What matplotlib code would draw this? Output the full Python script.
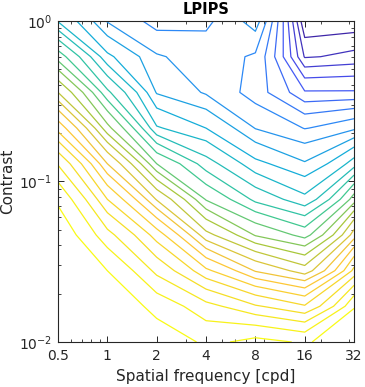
import matplotlib
matplotlib.use('Agg')
import matplotlib.pyplot as plt
import numpy as np
from matplotlib.colors import LinearSegmentedColormap, Normalize
from matplotlib.ticker import FixedLocator, LogLocator, NullFormatter

# grid of the contour data
freq = [0.5, 1, 2, 4, 8, 16, 32]
contrast = [1.0, 0.599, 0.359, 0.215, 0.129, 0.0774, 0.0464, 0.0278, 0.0167, 0.01]

# rows follow contrast (top to bottom), columns follow freq
z_rows = [
    [11.9,  8.9,  7.5,  7.8,  9.6,  0.0,  0.2],
    [15.5, 11.2,  9.1,  8.4,  7.85, 1.9,  2.3],
    [19.0, 14.2,  9.9,  8.85, 7.45, 5.1,  5.1],
    [22.6, 17.3, 12.1, 11.0,  8.95, 7.95, 8.8],
    [25.9, 21.0, 16.0, 13.4, 11.25, 10.1, 12.5],
    [27.8, 24.0, 19.9, 15.9, 13.7, 12.25, 16.5],
    [28.7, 26.3, 23.5, 19.3, 16.9, 15.6, 20.5],
    [29.2, 28.0, 25.7, 23.2, 20.9, 19.45, 24.3],
    [29.5, 28.8, 27.6, 26.3, 25.1, 24.1, 27.9],
    [29.8, 29.3, 28.6, 27.8, 28.3, 27.85, 29.2],
]
levels = list(range(1, 29))

xticks = [0.5, 1, 2, 4, 8, 16, 32]
xticklabels = ['0.5', '1', '2', '4', '8', '16', '32']

parula = LinearSegmentedColormap.from_list('parula', [
    (0.000, (0.2422, 0.1504, 0.6603)),
    (0.127, (0.2810, 0.3228, 0.9579)),
    (0.254, (0.1786, 0.5289, 0.9682)),
    (0.381, (0.0689, 0.6948, 0.8394)),
    (0.508, (0.2161, 0.7843, 0.5923)),
    (0.635, (0.6720, 0.7793, 0.2227)),
    (0.762, (0.9970, 0.7659, 0.2199)),
    (0.889, (0.9600, 0.8700, 0.1500)),
    (1.000, (0.9769, 0.9839, 0.0805)),
])

dark = '#262626'
fig = plt.figure(figsize=(3.65, 3.87), dpi=100)
ax = fig.add_axes([0.159, 0.1163, 0.811, 0.8295])

ax.contour(freq, contrast, np.array(z_rows), levels=levels, cmap=parula,
           norm=Normalize(vmin=levels[0], vmax=levels[-1]), linewidths=0.9)

ax.set_xscale('log')
ax.set_yscale('log')
ax.set_xlim(0.5, 32)
ax.set_ylim(0.01, 1)

ax.xaxis.set_major_locator(FixedLocator(xticks))
ax.set_xticklabels(xticklabels)
ax.xaxis.set_minor_locator(LogLocator(base=10, subs=range(2, 10)))
ax.xaxis.set_minor_formatter(NullFormatter())
ax.yaxis.set_minor_formatter(NullFormatter())

ax.tick_params(which='both', direction='in', top=True, right=True,
               colors=dark, labelsize=10)
ax.tick_params(axis='x', which='major', pad=5)
ax.tick_params(axis='y', which='major', pad=4)
ax.tick_params(which='major', length=4, width=0.7)
ax.tick_params(which='minor', length=2.5, width=0.6)
for s in ax.spines.values():
    s.set_color(dark)
    s.set_linewidth(0.8)

ax.set_xlabel('Spatial frequency [cpd]', fontsize=11, color=dark)
ax.xaxis.set_label_coords(0.5, -0.085)
ax.set_ylabel('Contrast', fontsize=11, color=dark)
ax.yaxis.set_label_coords(-0.145, 0.5)
ax.set_title('LPIPS', fontsize=10.5, fontweight='bold', color='black', pad=5)

fig.savefig('out.png', dpi=100)
